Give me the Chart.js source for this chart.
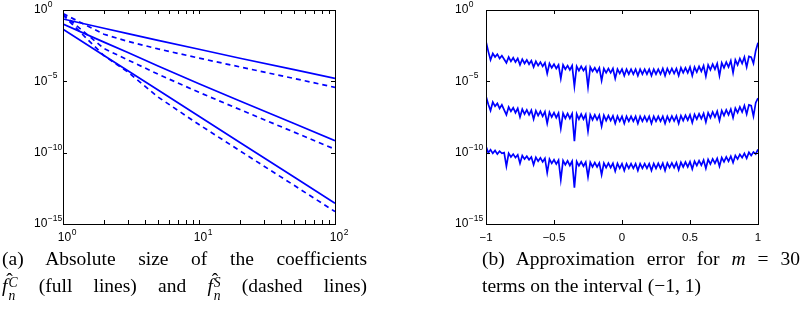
<!DOCTYPE html>
<html><head><meta charset="utf-8">
<script src="https://cdn.jsdelivr.net/npm/chart.js@4.4.1/dist/chart.umd.min.js"></script>
<style>
html,body{margin:0;padding:0;background:#fff;}
body{width:801px;height:322px;position:relative;overflow:hidden;}
canvas{position:absolute;top:0;}
#c1{left:0;}
#c2{left:400px;}
.cap{position:absolute;font-family:"Liberation Serif","Times New Roman",serif;font-size:19.5px;line-height:27px;color:#000;}
.cap div{white-space:nowrap;}
.cap .j{text-align:justify;text-align-last:justify;white-space:normal;}
.mf{position:relative;display:inline-block;font-style:italic;}
.hat{position:absolute;left:0.22em;top:-0.3em;font-style:normal;}
.ss{display:inline-block;vertical-align:middle;font-style:italic;font-size:0.7em;line-height:0.95em;position:relative;top:0.2em;margin-left:1px;}
.ss span{display:block;}
</style>
</head><body>
<canvas id="c1" width="400" height="250"></canvas>
<canvas id="c2" width="401" height="250"></canvas>

<div class="cap" style="left:2px;top:245px;width:365px">
  <div class="j">(a) Absolute size of the coefficients</div>
  <div class="j"><span class="mf">f<span class="hat">ˆ</span></span><span class="ss"><span>C</span><span>n</span></span> (full lines) and <span class="mf">f<span class="hat">ˆ</span></span><span class="ss"><span>S</span><span>n</span></span> (dashed lines)</div>
</div>
<div class="cap" style="left:482px;top:245px;width:318px">
  <div class="j">(b) Approximation error for <i>m</i> = 30</div>
  <div>terms on the interval (−1, 1)</div>
</div>

<script>
// ---------- (a) coefficient sizes, log10 values ----------
const nVals   = [1, 2, 3, 5, 10, 20, 50, 100];
const solid1  = [-0.63, -1.28, -1.66, -2.13, -2.75, -3.38, -4.18, -4.79];
const dashed1 = [-0.25, -1.70, -2.20, -2.73, -3.37, -3.99, -4.80, -5.42];
const solid2  = [-0.98, -2.25, -2.98, -3.92, -5.17, -6.38, -7.96, -9.16];
const dashed2 = [-0.30, -2.70, -3.50, -4.50, -5.77, -6.98, -8.56, -9.76];
const solid3  = [-1.35, -3.19, -4.26, -5.61, -7.45, -9.29, -11.71, -13.55];
const dashed3 = [-0.35, -3.20, -4.35, -6.10, -8.03, -9.87, -12.29, -14.13];

// ---------- (b) approximation error on (-1,1), log10 values ----------
const errTop = [
 -2.2,-2.9,-3.5,-3.05,-3.3,-3.1,-3.4,-3.2,-3.45,-3.7,
 -3.3,-3.6,-3.35,-3.65,-3.4,-3.85,-3.45,-3.75,-3.5,-3.8,
 -3.55,-4.0,-3.6,-3.9,-3.65,-3.95,-3.7,-4.45,-3.75,-4.05,
 -3.8,-4.1,-3.85,-4.8,-3.85,-4.15,-3.9,-4.2,-3.9,-5.35,
 -3.95,-4.25,-3.95,-4.25,-4.0,-5.4,-4.0,-4.3,-4.05,-4.35,
 -4.05,-4.95,-4.1,-4.4,-4.1,-4.4,-4.1,-4.8,-4.15,-4.45,
 -4.15,-4.6,-4.15,-4.5,-4.15,-4.5,-4.15,-4.6,-4.15,-4.5,
 -4.15,-4.5,-4.15,-4.6,-4.15,-4.5,-4.15,-4.5,-4.1,-4.6,
 -4.1,-4.45,-4.1,-4.45,-4.1,-4.6,-4.05,-4.4,-4.05,-4.4,
 -4.0,-4.6,-4.0,-4.35,-3.95,-4.3,-3.9,-4.65,-3.85,-4.2,
 -3.8,-4.15,-3.75,-4.6,-3.7,-4.05,-3.65,-4.0,-3.55,-4.4,
 -3.5,-3.85,-3.4,-3.75,-3.3,-4.0,-3.25,-3.3,-3.75,-2.85,-2.3];
const errMid = [
 -6.05,-6.6,-7.05,-6.45,-6.75,-6.55,-6.9,-6.65,-7.0,-7.35,
 -6.8,-7.1,-6.85,-7.2,-6.9,-7.5,-6.95,-7.3,-7.0,-7.35,
 -7.03,-7.65,-7.06,-7.4,-7.1,-7.45,-7.13,-7.95,-7.16,-7.5,
 -7.2,-7.55,-7.22,-8.3,-7.24,-7.6,-7.25,-7.6,-7.27,-9.2,
 -7.28,-7.65,-7.3,-7.65,-7.32,-8.5,-7.34,-7.7,-7.35,-7.7,
 -7.37,-8.15,-7.38,-7.75,-7.4,-7.75,-7.42,-7.95,-7.44,-7.8,
 -7.45,-7.95,-7.45,-7.8,-7.45,-7.8,-7.45,-7.95,-7.45,-7.8,
 -7.45,-7.8,-7.45,-7.95,-7.45,-7.8,-7.45,-7.8,-7.45,-7.95,
 -7.45,-7.8,-7.43,-7.78,-7.42,-7.95,-7.4,-7.75,-7.38,-7.72,
 -7.35,-7.9,-7.32,-7.65,-7.28,-7.62,-7.25,-7.85,-7.2,-7.55,
 -7.15,-7.5,-7.1,-7.75,-7.05,-7.4,-7.0,-7.35,-6.95,-7.55,
 -6.88,-7.2,-6.8,-7.15,-6.7,-7.3,-6.65,-6.7,-7.45,-6.5,-6.18];
const errBot = [
 -9.56,-10.0,-9.8,-10.05,-9.85,-10.1,-9.9,-10.05,-10.0,-10.95,
 -10.05,-10.3,-10.1,-10.35,-10.15,-10.75,-10.2,-10.45,-10.25,-10.5,
 -10.3,-10.85,-10.33,-10.6,-10.36,-10.65,-10.4,-11.4,-10.45,-10.75,
 -10.5,-10.8,-10.52,-11.9,-10.55,-10.85,-10.57,-10.9,-10.6,-12.45,
 -10.62,-10.92,-10.64,-10.95,-10.66,-11.7,-10.68,-11.0,-10.7,-11.0,
 -10.72,-11.55,-10.73,-11.05,-10.74,-11.05,-10.75,-11.3,-10.76,-11.1,
 -10.77,-11.25,-10.77,-11.1,-10.77,-11.1,-10.77,-11.25,-10.77,-11.1,
 -10.77,-11.1,-10.77,-11.25,-10.76,-11.1,-10.75,-11.1,-10.74,-11.25,
 -10.73,-11.05,-10.72,-11.05,-10.7,-11.2,-10.68,-11.0,-10.66,-11.0,
 -10.63,-11.15,-10.6,-10.9,-10.56,-10.88,-10.52,-11.1,-10.48,-10.8,
 -10.44,-10.75,-10.4,-10.95,-10.35,-10.65,-10.3,-10.6,-10.25,-10.7,
 -10.2,-10.45,-10.12,-10.35,-10.05,-10.4,-9.98,-10.2,-9.95,-10.1,-9.77];

// ---------- ticks ----------
const logYTicks   = [1, 1e-5, 1e-10, 1e-15];
const logYLabels  = ['0', '\u22125', '\u221210', '\u221215'];
const aXTicks     = [1, 10, 100];
const aXLabels    = ['0', '1', '2'];
const aXMinor     = [2,3,4,5,6,7,8,9,20,30,40,50,60,70,80,90];
const bXTicks     = [-1, -0.5, 0, 0.5, 1];
const bXLabels    = ['\u22121', '\u22120.5', '0', '0.5', '1'];

const BLUE = '#0000ff';
const FONT = '"Liberation Sans", Arial, Helvetica, sans-serif';

function pts(xs, ex) { return ex.map((e, i) => ({ x: xs[i], y: Math.pow(10, e) })); }
const bX = errTop.map((_, i) => -1 + 2 * i / (errTop.length - 1));

function framePlugin(cfg) {
  return {
    id: 'frame',
    afterDraw(chart) {
      const { ctx, chartArea: a, scales } = chart;
      const xs = scales.x, ys = scales.y;
      ctx.save();
      ctx.strokeStyle = '#000';
      ctx.lineWidth = 1;
      ctx.strokeRect(Math.round(a.left) + 0.5, Math.round(a.top) + 0.5,
                     Math.round(a.right - a.left), Math.round(a.bottom - a.top));
      const L = 4;
      ctx.beginPath();
      const xt = cfg.xTicks.concat(cfg.xMinor || []);
      for (const v of xt) {
        const p = Math.round(xs.getPixelForValue(v)) + 0.5;
        ctx.moveTo(p, a.bottom); ctx.lineTo(p, a.bottom - L);
        ctx.moveTo(p, a.top); ctx.lineTo(p, a.top + L);
      }
      for (const v of cfg.yTicks) {
        const p = Math.round(ys.getPixelForValue(v)) + 0.5;
        ctx.moveTo(a.left, p); ctx.lineTo(a.left + L, p);
        ctx.moveTo(a.right, p); ctx.lineTo(a.right - L, p);
      }
      ctx.stroke();
      ctx.fillStyle = '#000';
      ctx.textBaseline = 'middle';
      cfg.yTicks.forEach((v, i) => {
        const p = ys.getPixelForValue(v);
        ctx.font = '12px ' + FONT;
        ctx.textAlign = 'left';
        const x0 = a.left - cfg.yOff;
        ctx.fillText('10', x0, p);
        const w = ctx.measureText('10').width;
        ctx.font = '8.5px ' + FONT;
        ctx.fillText(cfg.yLabels[i], x0 + w + 0.5, p - 5.5);
      });
      cfg.xTicks.forEach((v, i) => {
        const p = xs.getPixelForValue(v);
        const y = a.bottom + 14;
        if (cfg.xPow) {
          ctx.font = '12px ' + FONT;
          ctx.textAlign = 'center';
          ctx.fillText('10', p + 1.5, y);
          const w = ctx.measureText('10').width;
          ctx.font = '8.5px ' + FONT;
          ctx.textAlign = 'left';
          ctx.fillText(cfg.xLabels[i], p + 1.5 + w / 2 + 0.5, y - 5.5);
        } else {
          ctx.font = '11.5px ' + FONT;
          ctx.textAlign = 'center';
          ctx.fillText(cfg.xLabels[i], p, y);
        }
      });
      ctx.restore();
    }
  };
}

function ds(data, dashed) {
  return { data, borderColor: BLUE, backgroundColor: BLUE, borderWidth: 1.7,
           borderDash: dashed ? [5, 4] : [], pointRadius: 0, tension: 0, fill: false };
}

const common = {
  responsive: false, animation: false, devicePixelRatio: 1,
  plugins: { legend: { display: false }, tooltip: { enabled: false } },
};

new Chart(document.getElementById('c1'), {
  type: 'line',
  data: { datasets: [
    ds(pts(nVals, solid1), false), ds(pts(nVals, dashed1), true),
    ds(pts(nVals, solid2), false), ds(pts(nVals, dashed2), true),
    ds(pts(nVals, solid3), false), ds(pts(nVals, dashed3), true),
  ]},
  options: Object.assign({}, common, {
    layout: { padding: { left: 63, top: 10, right: 65, bottom: 26 } },
    scales: {
      x: { type: 'logarithmic', min: 1, max: 100, display: false },
      y: { type: 'logarithmic', min: 1e-15, max: 1, display: false },
    },
  }),
  plugins: [framePlugin({ xTicks: aXTicks, xMinor: aXMinor, xLabels: aXLabels, xPow: true,
                          yTicks: logYTicks, yLabels: logYLabels, yOff: 29 })],
});

new Chart(document.getElementById('c2'), {
  type: 'line',
  data: { datasets: [
    ds(pts(bX, errTop), false), ds(pts(bX, errMid), false), ds(pts(bX, errBot), false),
  ]},
  options: Object.assign({}, common, {
    layout: { padding: { left: 86, top: 10, right: 43, bottom: 26 } },
    scales: {
      x: { type: 'linear', min: -1, max: 1, display: false },
      y: { type: 'logarithmic', min: 1e-15, max: 1, display: false },
    },
  }),
  plugins: [framePlugin({ xTicks: bXTicks, xLabels: bXLabels, xPow: false,
                          yTicks: logYTicks, yLabels: logYLabels, yOff: 31 })],
});
</script>
</body></html>
